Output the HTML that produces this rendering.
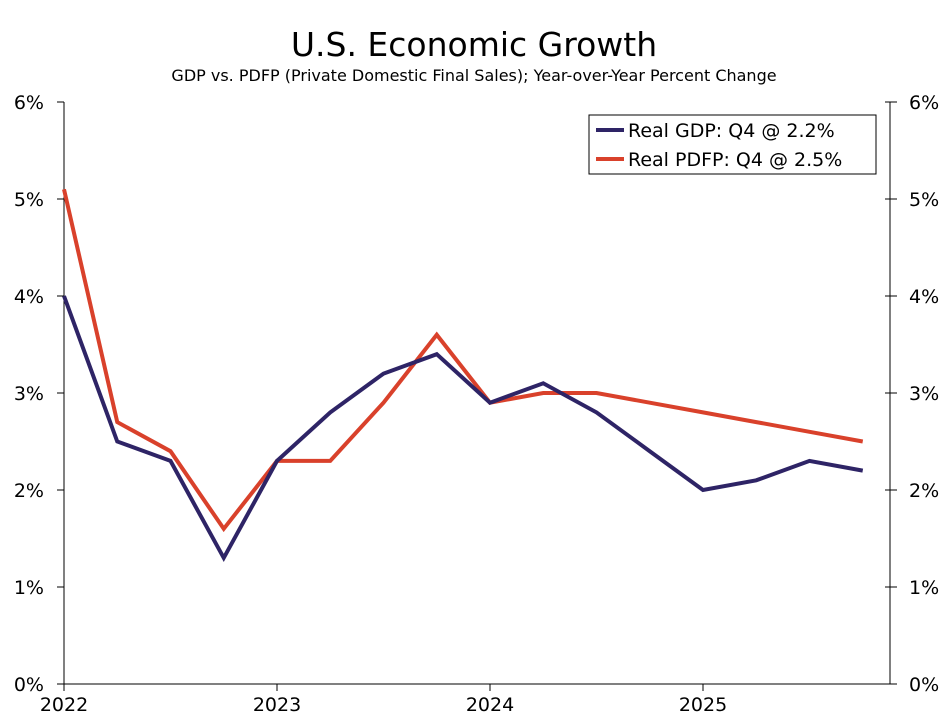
<!DOCTYPE html>
<html><head><meta charset="utf-8"><style>
body{margin:0;background:#fff;}
svg{display:block;font-family:"DejaVu Sans","Liberation Sans",sans-serif;}
</style></head><body>
<svg id="chart" width="948" height="727">
<text x="474" y="56" text-anchor="middle" font-size="33" fill="#000">U.S. Economic Growth</text>
<text x="474" y="81" text-anchor="middle" font-size="16" fill="#000">GDP vs. PDFP (Private Domestic Final Sales); Year-over-Year Percent Change</text>
<g id="axes"></g>
<g id="series"></g>
<g>
<rect x="589" y="115" width="287" height="59" fill="#fff" stroke="#000" stroke-width="1"/>
<line x1="596" y1="130" x2="624" y2="130" stroke="#2e2466" stroke-width="4"/>
<text x="628" y="137" font-size="19">Real GDP: Q4 @ 2.2%</text>
<line x1="596" y1="159" x2="624" y2="159" stroke="#d9412b" stroke-width="4"/>
<text x="628" y="166" font-size="19">Real PDFP: Q4 @ 2.5%</text>
</g>
</svg>
<script>
const yTicks=[0,1,2,3,4,5,6];
const yearLabels=["2022","2023","2024","2025"];
const gdp=[4.0,2.5,2.3,1.3,2.3,2.8,3.2,3.4,2.9,3.1,2.8,2.4,2.0,2.1,2.3,2.2];
const pdfp=[5.1,2.7,2.4,1.6,2.3,2.3,2.9,3.6,2.9,3.0,3.0,2.9,2.8,2.7,2.6,2.5];
const L=64,R=890,T=102,B=684;
const x=i=>L+i*53.25;
const y=v=>B-(v/6)*(B-T);
const NS="http://www.w3.org/2000/svg";
function mk(tag,attrs,parent){const e=document.createElementNS(NS,tag);for(const k in attrs)e.setAttribute(k,attrs[k]);parent.appendChild(e);return e;}
const ax=document.getElementById('axes');
let a=mk('line',{x1:L,y1:T,x2:L,y2:B,stroke:'#000'},ax);


a=mk('line',{x1:R,y1:T,x2:R,y2:B,stroke:'#000'},ax);


a=mk('line',{x1:L,y1:B,x2:R,y2:B,stroke:'#000'},ax);


yTicks.forEach(v=>{
  const yy=y(v);
  mk('line',{x1:L-7,y1:yy,x2:L,y2:yy,stroke:'#000'},ax);
  mk('line',{x1:R-5,y1:yy,x2:R+7,y2:yy,stroke:'#000'},ax);
  let t=mk('text',{x:L-20,y:yy+7,'text-anchor':'end','font-size':19},ax);t.textContent=v+'%';
  
  
  t=mk('text',{x:R+19,y:yy+7,'font-size':19},ax);t.textContent=v+'%';
  
  
});
yearLabels.forEach((lab,i)=>{
  const xx=x(i*4);
  mk('line',{x1:xx,y1:B,x2:xx,y2:B+7,stroke:'#000'},ax);
  const t=mk('text',{x:xx,y:B+27,'text-anchor':'middle','font-size':19},ax);t.textContent=lab;
  
  
});
const sg=document.getElementById('series');
function line(data,color,name){
  const p=mk('polyline',{points:data.map((v,i)=>x(i)+','+y(v)).join(' '),fill:'none',stroke:color,'stroke-width':4,'stroke-linejoin':'miter'},sg);
  
  
}
line(pdfp,'#d9412b','pdfp-line');
line(gdp,'#2e2466','gdp-line');
</script>
</body></html>
